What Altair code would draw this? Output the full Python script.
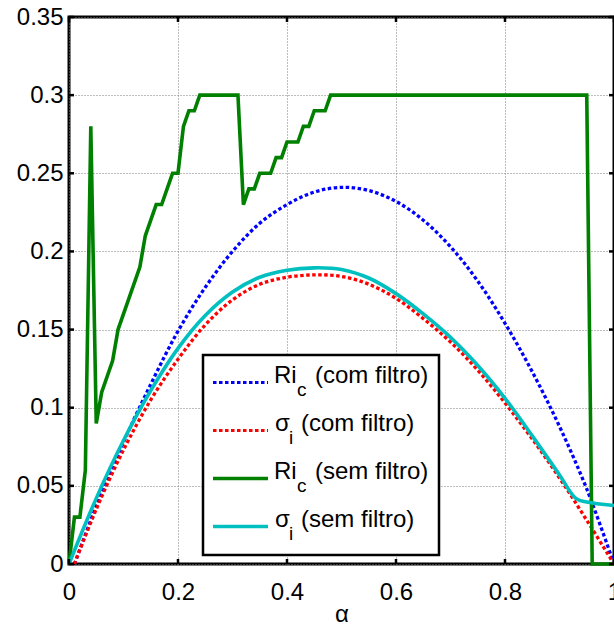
import altair as alt
import pandas as pd

# ---- data ----
blue_alpha = [0.01, 0.05, 0.10, 0.15, 0.20, 0.25, 0.30, 0.35, 0.40, 0.45, 0.50,
              0.55, 0.60, 0.65, 0.70, 0.75, 0.80, 0.85, 0.90, 0.95, 1.00]
blue_vals = [0.0, 0.037, 0.078, 0.115, 0.149, 0.177, 0.200, 0.218, 0.230, 0.238, 0.241,
             0.239, 0.232, 0.220, 0.203, 0.181, 0.154, 0.123, 0.088, 0.048, 0.0]

red_alpha = [0.01, 0.05, 0.10, 0.15, 0.20, 0.25, 0.30, 0.35, 0.40, 0.45, 0.50,
             0.55, 0.60, 0.65, 0.70, 0.75, 0.80, 0.85, 0.90, 0.95, 1.00]
red_vals = [0.0, 0.035, 0.073, 0.105, 0.131, 0.153, 0.169, 0.179, 0.1835, 0.185, 0.184,
            0.179, 0.170, 0.157, 0.142, 0.124, 0.103, 0.080, 0.055, 0.028, 0.0]

green_alpha = [0.00, 0.01, 0.02, 0.03, 0.04, 0.05, 0.06, 0.08, 0.09, 0.13, 0.14, 0.15,
               0.16, 0.17, 0.18, 0.19, 0.20, 0.21, 0.22, 0.23, 0.24, 0.31, 0.32, 0.33,
               0.34, 0.35, 0.37, 0.38, 0.39, 0.40, 0.42, 0.43, 0.44, 0.45, 0.47, 0.48,
               0.95, 0.96, 1.00]
green_vals = [0.0, 0.03, 0.03, 0.06, 0.28, 0.09, 0.11, 0.13, 0.15, 0.19, 0.21, 0.22,
              0.23, 0.23, 0.24, 0.25, 0.25, 0.28, 0.29, 0.29, 0.30, 0.30, 0.23, 0.24,
              0.24, 0.25, 0.25, 0.26, 0.26, 0.27, 0.27, 0.28, 0.28, 0.29, 0.29, 0.30,
              0.30, 0.0, 0.0]

cyan_alpha = [0.00, 0.05, 0.10, 0.15, 0.20, 0.25, 0.30, 0.35, 0.40, 0.45, 0.50,
              0.55, 0.60, 0.65, 0.70, 0.75, 0.80, 0.85, 0.90, 0.93, 0.95, 1.00]
cyan_vals = [0.0, 0.042, 0.079, 0.111, 0.138, 0.159, 0.174, 0.1835, 0.188, 0.1895, 0.1885,
             0.183, 0.173, 0.160, 0.145, 0.127, 0.106, 0.082, 0.057, 0.042, 0.0396, 0.0374]

x_ticks = [0, 0.2, 0.4, 0.6, 0.8, 1.0]
y_ticks = [0, 0.05, 0.1, 0.15, 0.2, 0.25, 0.3, 0.35]

series_names = ["Ri_c (com filtro)", "σ_i (com filtro)", "Ri_c (sem filtro)", "σ_i (sem filtro)"]
legend_main = ["Ri", "σ", "Ri", "σ"]
legend_sub = ["c", "i", "c", "i"]
legend_rest = ["(com filtro)", "(com filtro)", "(sem filtro)", "(sem filtro)"]

# ---- layout / style ----
W, H = 545, 547
FONT = "Liberation Sans"
colors = ["#0000FF", "#FF0000", "#008000", "#00BFBF"]
dashes = [[3.5, 2.5], [3.5, 2.5], None, None]
widths = [3.3, 3.3, 3.6, 3.6]
interps = ["catmull-rom", "catmull-rom", "linear", "catmull-rom"]

xscale = alt.Scale(domain=[0, 1], nice=False, zero=False)
yscale = alt.Scale(domain=[0, 0.35], nice=False, zero=False)

grid_kw = dict(gridColor="#7a7a7a", gridDash=[1, 2], gridWidth=1, gridOpacity=1)
xaxis = alt.Axis(values=x_ticks, format="~g", title="α", grid=True, ticks=False, domain=False,
                 labelFont=FONT, labelFontSize=24, labelColor="black", labelPadding=16,
                 labelFlush=False, labelOverlap=False,
                 titleFont=FONT, titleFontSize=24, titleFontWeight="normal", titleColor="black",
                 titleBaseline="alphabetic", titleY=57, **grid_kw)
yaxis = alt.Axis(values=y_ticks, format="~g", title=None, grid=True, ticks=False, domain=False,
                 labelFont=FONT, labelFontSize=24, labelColor="black", labelPadding=6,
                 labelFlush=False, labelOverlap=False, **grid_kw)

series = [(blue_alpha, blue_vals), (red_alpha, red_vals), (green_alpha, green_vals), (cyan_alpha, cyan_vals)]

# long table for all curves
frames = []
for i, (a, v) in enumerate(series):
    frames.append(pd.DataFrame({"alpha": a, "value": v, "serie": series_names[i]}))
curves = pd.concat(frames, ignore_index=True)

layers = []
for i in range(4):
    kw = dict(color=colors[i], strokeWidth=widths[i], strokeCap="butt")
    if dashes[i] is not None:
        kw["strokeDash"] = dashes[i]
    layers.append(
        alt.Chart(curves).transform_filter(alt.datum.serie == series_names[i])
        .mark_line(interpolate=interps[i], **kw).encode(
            x=alt.X("alpha:Q", scale=xscale, axis=xaxis),
            y=alt.Y("value:Q", scale=yscale, axis=yaxis),
        )
    )

# inside tick marks (through the scales)
xt = pd.DataFrame({"alpha": x_ticks})
yt = pd.DataFrame({"value": y_ticks})
tick_style = dict(color="black", strokeWidth=2.5)
layers.append(alt.Chart(xt).mark_rule(**tick_style).encode(
    x=alt.X("alpha:Q", scale=xscale, axis=xaxis), y=alt.value(H), y2=alt.value(H - 5)))
layers.append(alt.Chart(xt).mark_rule(**tick_style).encode(
    x=alt.X("alpha:Q", scale=xscale, axis=xaxis), y=alt.value(0), y2=alt.value(5)))
layers.append(alt.Chart(yt).mark_rule(**tick_style).encode(
    y=alt.Y("value:Q", scale=yscale, axis=yaxis), x=alt.value(0), x2=alt.value(5)))
layers.append(alt.Chart(yt).mark_rule(**tick_style).encode(
    y=alt.Y("value:Q", scale=yscale, axis=yaxis), x=alt.value(W - 5), x2=alt.value(W)))

# ---- custom legend (box, samples, sub-scripted labels) ----
one = pd.DataFrame({"k": [0]})
LX0, LX1, LY0, LY1 = 134, 370, 338, 538
layers.append(alt.Chart(one).mark_rect(fill="white", stroke="black", strokeWidth=2.5).encode(
    x=alt.value(LX0), x2=alt.value(LX1), y=alt.value(LY0), y2=alt.value(LY1)))

row_base = [366, 414, 462, 510]
for i in range(4):
    yb = row_base[i]
    kw = dict(color=colors[i], strokeWidth=widths[i] - 0.3, strokeCap="butt")
    if dashes[i] is not None:
        kw["strokeDash"] = dashes[i]
    layers.append(alt.Chart(one).mark_rule(**kw).encode(
        x=alt.value(144), x2=alt.value(199), y=alt.value(yb - 0.5)))
    is_sigma = legend_main[i] == "σ"
    main_x = 206 if is_sigma else 205
    sub_x = 220 if is_sigma else 228
    rest_x = 232 if is_sigma else 246
    txt = dict(font=FONT, color="black", align="left", baseline="alphabetic")
    layers.append(alt.Chart(one).mark_text(text=legend_main[i], fontSize=24, **txt).encode(
        x=alt.value(main_x), y=alt.value(yb)))
    layers.append(alt.Chart(one).mark_text(text=legend_sub[i], fontSize=19, **txt).encode(
        x=alt.value(sub_x), y=alt.value(yb + 12.5)))
    layers.append(alt.Chart(one).mark_text(text=legend_rest[i], fontSize=24, **txt).encode(
        x=alt.value(rest_x), y=alt.value(yb)))

chart = alt.layer(*layers).properties(
    width=W, height=H,
    autosize=alt.AutoSizeParams(type="none"),
    padding={"left": 69, "top": 17, "right": 0, "bottom": 63},
    background="white",
).configure_view(stroke="black", strokeWidth=3)

chart.save("out.html", embed_options={"renderer": "svg", "actions": False})
